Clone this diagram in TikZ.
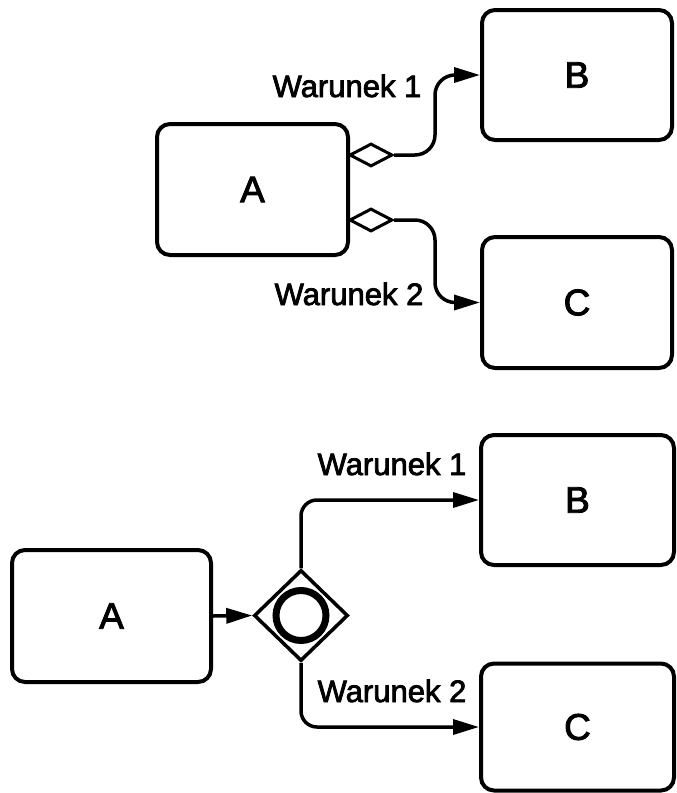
\documentclass[tikz,border=0pt]{standalone}
\usepackage{fontspec}
\setmainfont{Liberation Sans}
\newfontfamily\heavysans{Liberation Sans}[FakeBold=2.5]
\usetikzlibrary{shapes.geometric,arrows.meta}
\tikzset{
  task/.style={draw, line width=4pt, rounded corners=13pt, fill=white, inner sep=0pt,
    font=\heavysans\fontsize{37}{40}\selectfont},
  condlabel/.style={font=\heavysans\fontsize{31}{34}\selectfont, anchor=base, inner sep=0pt},
  minidia/.style={draw, shape=diamond, line width=3pt, fill=white, inner sep=0pt,
    minimum width=43pt, minimum height=23pt},
  gateway/.style={draw, shape=diamond, line width=3.5pt, fill=white, inner sep=0pt,
    minimum width=94pt, minimum height=91pt},
  flow/.style={line width=3.5pt, -{Triangle[length=26pt,width=15pt]}},
}
\begin{document}
\begin{tikzpicture}[x=1pt,y=-1pt]
\useasboundingbox (0,0) rectangle (677,793);
% ---------- top diagram ----------
\node[task, minimum width=191pt, minimum height=131pt] (A1) at (252.5,189.5) {A};
\node[task, minimum width=190pt, minimum height=130pt] (B1) at (577,75) {B};
\node[task, minimum width=190pt, minimum height=131pt] (C1) at (577,302.5) {C};
\node[minidia] (d1) at (371,155) {};
\node[minidia] (d2) at (371,220) {};
\coordinate (k1) at (435,155);
\coordinate (k2) at (435,220);
\draw[flow, rounded corners=20pt] (d1.east) -- (k1) |- (B1.west);
\draw[flow, rounded corners=20pt] (d2.east) -- (k2) |- (C1.west);
\node[condlabel] (w1) at (347,97) {Warunek 1};
\node[condlabel] (w2) at (349,305) {Warunek 2};
% ---------- bottom diagram ----------
\node[task, minimum width=199pt, minimum height=132pt] (A2) at (111.5,616) {A};
\node[task, minimum width=193pt, minimum height=130pt] (B2) at (577.5,500) {B};
\node[task, minimum width=193pt, minimum height=127pt] (C2) at (577.5,727) {C};
\node[gateway] (gw) at (301,615.5) {};
\draw[line width=7pt] (gw.center) circle[radius=25pt];
\draw[flow] (A2.east) -- (gw.west);
\draw[flow, rounded corners=16pt] (gw.north) |- (B2.west);
\draw[flow, rounded corners=16pt] (gw.south) |- (C2.west);
\node[condlabel] (w3) at (392,475) {Warunek 1};
\node[condlabel] (w4) at (392,702) {Warunek 2};
\end{tikzpicture}
\end{document}
